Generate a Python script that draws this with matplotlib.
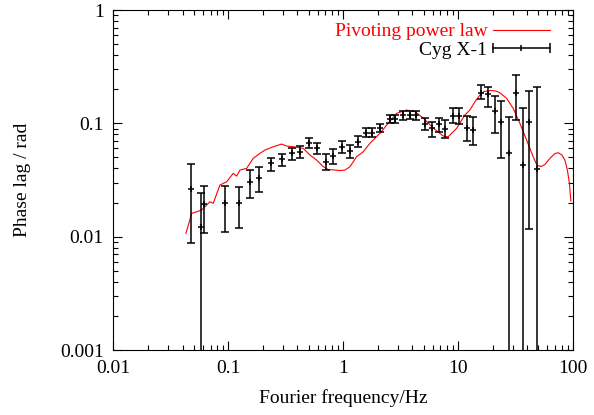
import numpy as np
import matplotlib.pyplot as plt
from matplotlib.lines import Line2D
from matplotlib.legend_handler import HandlerBase

plt.rcParams['font.family'] = ['Liberation Serif', 'DejaVu Serif']
plt.rcParams['font.size'] = 14

# Cyg X-1 phase lags (Hz, rad) with upper / lower error limits
freq = [0.0470, 0.0577, 0.0613, 0.0934, 0.1244, 0.1542, 0.1865, 0.2334, 0.2945,
        0.3556, 0.4199, 0.5078, 0.5963, 0.7069, 0.8185, 0.9685, 1.155, 1.350,
        1.586, 1.788, 2.108, 2.534, 2.818, 3.289, 3.784, 4.293, 5.142, 5.882,
        6.766, 7.676, 8.955, 10.26, 11.86, 13.59, 15.80, 18.17, 20.91, 23.82,
        27.51, 32.17, 36.42, 41.57, 48.81]
lag = [0.02616, 0.01224, 0.01959, 0.01967, 0.01991, 0.03051, 0.03269, 0.04434,
       0.04812, 0.05434, 0.05613, 0.06700, 0.06017, 0.04581, 0.05196, 0.06214,
       0.05729, 0.06880, 0.08260, 0.08260, 0.09126, 0.1096, 0.1096, 0.1177,
       0.1191, 0.1184, 0.0980, 0.09034, 0.09858, 0.08906, 0.1167, 0.1160,
       0.09034, 0.08816, 0.1870, 0.1814, 0.1292, 0.1033, 0.05501, 0.1862,
       0.04285, 0.1033, 0.03950]
lag_hi = [0.04346, 0.02440, 0.02796, 0.02796, 0.02757, 0.03871, 0.04090, 0.04969,
          0.05325, 0.06017, 0.06302, 0.07462, 0.06742, 0.05358, 0.05932, 0.07021,
          0.06433, 0.07724, 0.09034, 0.09034, 0.09959, 0.1196, 0.1196, 0.1284,
          0.1297, 0.1297, 0.1107, 0.1033, 0.1107, 0.1069, 0.1356, 0.1356,
          0.1167, 0.1143, 0.2178, 0.2104, 0.1742, 0.1573, 0.1148, 0.2668,
          0.1356, 0.1940, 0.2104]
lag_lo = [0.008727, 1e-5, 0.01087, 0.01091, 0.01199, 0.02192, 0.02490, 0.03816,
          0.04224, 0.04744, 0.04969, 0.06053, 0.05325, 0.03871, 0.04373, 0.05434,
          0.04909, 0.06214, 0.07615, 0.07615, 0.08379, 0.1006, 0.1006, 0.1069,
          0.1091, 0.1080, 0.08728, 0.07615, 0.08431, 0.07418, 0.1000, 0.0980,
          0.06980, 0.06433, 0.1639, 0.1401, 0.0826, 0.04909, 1e-5, 0.1069,
          1e-5, 0.01167, 1e-5]

# pivoting power law model
model_freq = [0.04276, 0.04792, 0.05298, 0.05857, 0.06475, 0.06917, 0.07387, 0.08450,
              0.09665, 0.1103, 0.1181, 0.1262, 0.1443, 0.1647, 0.1884, 0.2083,
              0.2459, 0.2910, 0.3217, 0.3671, 0.4486, 0.5130, 0.5868, 0.6697,
              0.7405, 0.8470, 0.9361, 1.035, 1.144, 1.308, 1.493, 1.708, 2.086,
              2.464, 2.916, 3.563, 4.207, 4.970, 6.071, 7.419, 8.200, 9.703,
              11.46, 12.67, 14.01, 15.48, 16.77, 19.30, 21.33, 23.11, 26.43,
              30.18, 34.50, 39.47, 45.04, 48.51, 52.55, 56.94, 62.95, 69.58,
              74.65, 80.05, 85.01, 89.41, 93.04, 95.88]
model_lag = [0.01069, 0.01605, 0.01659, 0.01717, 0.01901, 0.02032, 0.01967, 0.02854,
             0.03051, 0.03621, 0.03426, 0.03871, 0.04007, 0.04909, 0.05434, 0.05810,
             0.06214, 0.06566, 0.06302, 0.06214, 0.06015, 0.05252, 0.04744, 0.04156,
             0.03911, 0.03871, 0.03832, 0.03871, 0.04139, 0.05071, 0.05613, 0.06660,
             0.08160, 0.1000, 0.1225, 0.1311, 0.1266, 0.1114, 0.09090, 0.07724,
             0.07615, 0.09034, 0.1184, 0.1311, 0.1551, 0.1777, 0.1909, 0.1948,
             0.1928, 0.1862, 0.1662, 0.1356, 0.1000, 0.07123, 0.05071, 0.04285,
             0.04156, 0.04328, 0.04909, 0.05413, 0.05501, 0.05252, 0.04744, 0.03871,
             0.02972, 0.02062]


class HorizErrHandler(HandlerBase):
    # gnuplot-style key sample: |---+---|
    def create_artists(self, legend, orig_handle, xdescent, ydescent,
                       width, height, fontsize, trans):
        y = height / 2 - ydescent
        x0, x1 = -xdescent, width - xdescent
        bar = Line2D([x0, x1], [y, y], color='black', lw=1.1, transform=trans)
        caps = Line2D([x0, x1], [y, y], ls='none', marker='|', ms=7, mew=1.1,
                      color='black', transform=trans)
        mid = Line2D([(x0 + x1) / 2], [y], ls='none', marker='|', ms=5, mew=1.1,
                     color='black', transform=trans)
        return [bar, caps, mid]


lag = np.array(lag)
yerr = [lag - np.array(lag_lo), np.array(lag_hi) - lag]

fig, ax = plt.subplots(figsize=(5.94, 4.15), dpi=100)
fig.subplots_adjust(left=0.191, right=0.9646, bottom=0.1566, top=0.9759)

model_line, = ax.plot(model_freq, model_lag, color='red', lw=0.8)
data_err = ax.errorbar(freq, lag, yerr=yerr, fmt='+', color='black', ms=5, mew=1.1,
                       elinewidth=1.1, capsize=3, capthick=1.1)

ax.set_xscale('log')
ax.set_yscale('log')
ax.set_xlim(0.01, 100)
ax.set_ylim(0.001, 1)
ax.set_xticks([0.01, 0.1, 1, 10, 100])
ax.set_xticklabels(['0.01', '0.1', '1', '10', '100'])
ax.set_yticks([0.001, 0.01, 0.1, 1])
ax.set_yticklabels(['0.001', '0.01', '0.1', '1'])

ax.tick_params(which='both', direction='in', top=True, right=True, width=0.8)
ax.tick_params(which='major', length=6.5, pad=7)
ax.tick_params(which='minor', length=3.5)
for s in ax.spines.values():
    s.set_linewidth(0.8)

ax.set_xlabel('Fourier frequency/Hz', labelpad=9)
ax.set_ylabel('Phase lag / rad', labelpad=21)

leg = ax.legend([model_line, data_err], ['Pivoting power law', 'Cyg X-1'],
                handler_map={data_err: HorizErrHandler()},
                loc='upper right', bbox_to_anchor=(0.966, 0.985), frameon=False,
                markerfirst=False, handlelength=2.9, labelspacing=0.05,
                handletextpad=0.3, borderaxespad=0)
for t, c in zip(leg.get_texts(), ['red', 'black']):
    t.set_color(c)

fig.savefig('out.png')
